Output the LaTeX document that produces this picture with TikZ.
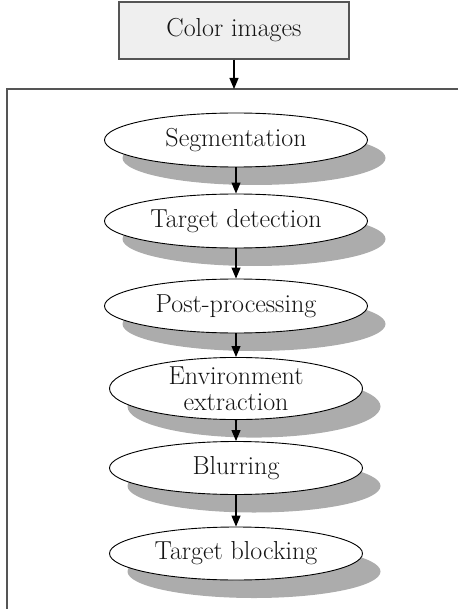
\documentclass[tikz,border=0pt]{standalone}
\usepackage{fontspec}
\setmainfont{Latin Modern Roman}
\usetikzlibrary{shapes.geometric,shadows,arrows.meta}
\definecolor{shadowgray}{RGB}{172,172,172}
\definecolor{boxfill}{RGB}{239,239,239}
\definecolor{framegray}{RGB}{85,85,85}
\begin{document}
\begin{tikzpicture}[x=1pt,y=-1pt,
  txt/.style={font=\fontsize{26}{27}\selectfont, text=black!92},
  stage/.style={ellipse, draw=black, line width=0.9pt, fill=white, inner sep=0pt,
    minimum width=263pt, minimum height=54pt, txt, align=center,
    drop shadow={shadow xshift=18pt, shadow yshift=-18pt, fill=shadowgray, opacity=1}},
  narrow/.style={minimum width=253pt, minimum height=53pt},
  flow/.style={line width=1.1pt, -{Triangle[length=11pt,width=9pt]}}
]
\useasboundingbox (0,0) rectangle (457,609);
% outer frame (only top and left visible)
\draw[framegray, line width=1.3pt] (7,620) -- (7,89) -- (470,89);
\coordinate (ftop) at (234,89);
% input box
\node[draw=framegray, line width=1.1pt, fill=boxfill, minimum width=230pt, minimum height=57pt, inner sep=0pt, txt] (color) at (234,30.5) {Color images};
% stages
\node[stage] (seg) at (236,140) {Segmentation};
\node[stage] (det) at (236,221) {Target detection};
\node[stage] (post) at (236,306) {Post-processing};
\node[stage, narrow] (env) at (236,388.5) {Environment\\[-1pt]extraction};
\node[stage, narrow] (blur) at (236,468) {Blurring};
\node[stage, narrow] (block) at (236,553.5) {Target blocking};
% connectors
\draw[flow] (color) -- (ftop);
\draw[flow] (seg) -- (det);
\draw[flow] (det) -- (post);
\draw[flow] (post) -- (env);
\draw[flow] (env) -- (blur);
\draw[flow] (blur) -- (block);
\end{tikzpicture}
\end{document}
